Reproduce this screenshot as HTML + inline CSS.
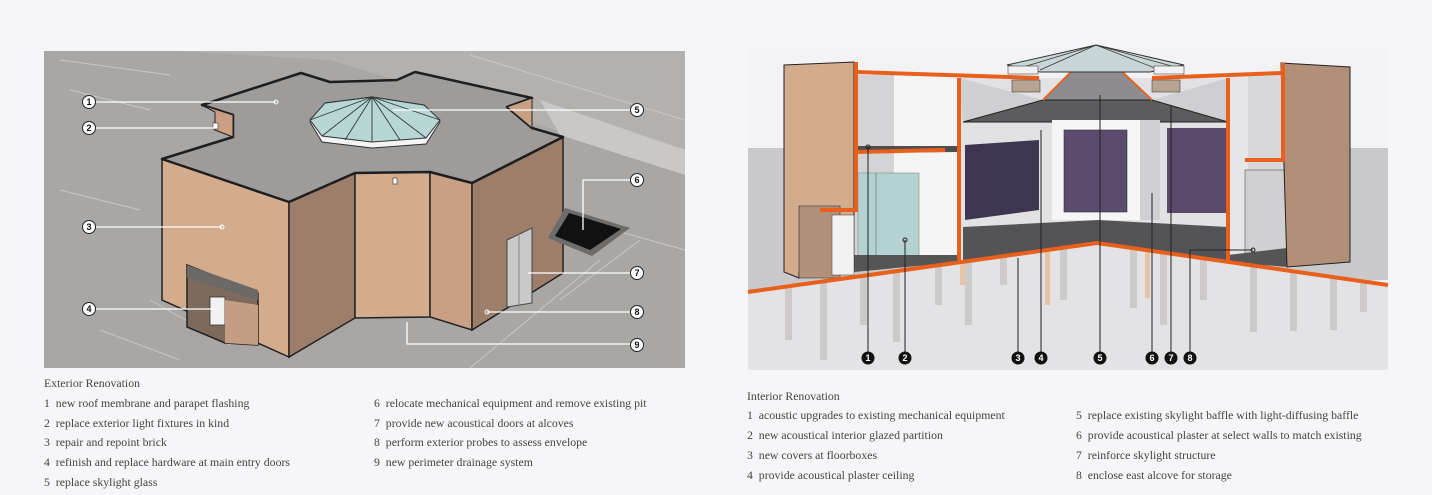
<!DOCTYPE html>
<html><head><meta charset="utf-8"><style>
html,body{margin:0;padding:0;background:#f6f6f8;}
body{width:1432px;height:495px;position:relative;overflow:hidden;font-family:"Liberation Serif",serif;color:#444;}
.t{position:absolute;font-size:11.8px;white-space:nowrap;}
svg{position:absolute;left:0;top:0;}
</style></head><body>
<svg width="1432" height="495" viewBox="0 0 1432 495">
<!-- LEFT PANEL -->
<rect x="44" y="51" width="641" height="317" fill="#a9a7a5"/>
<polygon points="44,51 685,51 685,175 540,125 330,60 180,51" fill="#b3b1af"/>
<polygon points="540,100 685,150 685,175 560,135" fill="#c9c8c7"/>
<g stroke="#c9c7c5" stroke-width="1" fill="none">
<path d="M60,60 L170,75 M70,90 L150,110 M470,55 L685,120 M620,130 L685,150 M560,215 L685,250 M640,240 L560,300 M600,260 L470,368 M150,300 L230,345 M60,190 L140,210 M100,330 L180,360"/>
</g>
<!-- walls -->
<polygon points="162,159 289,202 289,357 162,300" fill="#d3ab8d" stroke="#222" stroke-width="1.5"/>
<polygon points="289,202 355,173 355,318 289,357" fill="#9c7e6b" stroke="#222" stroke-width="1.5"/>
<polygon points="355,173 430,172 430,317 355,318" fill="#d3ab8d" stroke="#222" stroke-width="1.5"/>
<polygon points="430,172 472,183 472,330 430,317" fill="#c9a084" stroke="#222" stroke-width="1.5"/>
<polygon points="472,183 563,137 563,273 472,330" fill="#9c7e6b" stroke="#222" stroke-width="1.5"/>
<!-- entry alcove -->
<polygon points="187,265 258,293 258,345 225,343 187,327" fill="#7d6a5c" stroke="#222" stroke-width="1.5"/>
<polygon points="187,265 258,290 258,300 187,278" fill="#6b6866"/>
<rect x="210" y="297" width="15" height="28" fill="#f2f2f2" stroke="#333" stroke-width="0.8"/>
<polygon points="225,300 258,305 258,345 225,343" fill="#c49e83"/>
<!-- door right -->
<polygon points="507,240 532,228 532,303 507,307" fill="#c9c9c9" stroke="#444" stroke-width="1"/>
<line x1="519" y1="234" x2="519" y2="305" stroke="#888"/>
<!-- pit -->
<polygon points="565,208 630,228 592,256 548,238" fill="#6e6c6a"/>
<polygon points="569,213 621,229 590,250 555,236" fill="#111"/>
<!-- roof -->
<polygon points="162,159 233,137 233,115 202,105 301,73 330,82 397,80 415,72 532,98 507,107 532,128 563,137 472,183 430,172 355,173 289,202" fill="#9e9c9a" stroke="#1e1e1e" stroke-width="2.5" stroke-linejoin="round"/>
<polygon points="202,105 233,115 233,137 215,130 215,112" fill="#c9a084" stroke="#222"/>
<polygon points="507,107 532,98 532,128" fill="#c9a084" stroke="#222"/>
<rect x="213" y="123" width="5" height="6" fill="#fff" stroke="#333" stroke-width="0.6"/>
<rect x="393" y="178" width="4" height="6" fill="#fff" stroke="#333" stroke-width="0.6"/>
<!-- skylight -->
<polygon points="310,122 325,104 372,97 424,106 440,122 426,144 372,148 322,142" fill="#f4f4f4" stroke="#333"/>
<polygon points="310,120 325,103 372,97 424,105 440,120 426,138 372,142 322,136" fill="#b8d6d4" stroke="#333"/>
<g stroke="#2e3a3a" stroke-width="0.9">
<line x1="372" y1="97" x2="310" y2="120"/><line x1="372" y1="97" x2="322" y2="136"/><line x1="372" y1="97" x2="345" y2="140"/><line x1="372" y1="97" x2="372" y2="142"/><line x1="372" y1="97" x2="400" y2="140"/><line x1="372" y1="97" x2="426" y2="138"/><line x1="372" y1="97" x2="440" y2="120"/><line x1="372" y1="97" x2="325" y2="103"/><line x1="372" y1="97" x2="424" y2="105"/>
</g>
<!-- left labels -->
<g stroke="#fff" stroke-width="1.3" fill="none">
<path d="M89,102 H276 M89,128 H216 M89,227 H222 M89,309 H218 M637,110 H393 M583,180 H637 M583,180 V230 M637,273 H528 M637,312 H487 M407,322 V344 H637"/>
</g>
<g fill="none" stroke="#fff" stroke-width="1"><circle cx="276" cy="102" r="2"/><circle cx="222" cy="227" r="2"/><circle cx="487" cy="312" r="2"/></g>
<g font-family="Liberation Sans, sans-serif" font-size="9" font-weight="bold" text-anchor="middle">
<g fill="#fff" stroke="#222" stroke-width="1">
<circle cx="89" cy="102" r="6.5"/><circle cx="89" cy="128" r="6.5"/><circle cx="89" cy="227" r="6.5"/><circle cx="89" cy="309" r="6.5"/>
<circle cx="637" cy="110" r="6.5"/><circle cx="637" cy="180" r="6.5"/><circle cx="637" cy="273" r="6.5"/><circle cx="637" cy="312" r="6.5"/><circle cx="637" cy="345" r="6.5"/>
</g>
<g fill="#111">
<text x="89" y="105">1</text><text x="89" y="131">2</text><text x="89" y="230">3</text><text x="89" y="312">4</text>
<text x="637" y="113">5</text><text x="637" y="183">6</text><text x="637" y="276">7</text><text x="637" y="315">8</text><text x="637" y="348">9</text>
</g></g>

<!-- RIGHT PANEL -->
<rect x="748" y="48" width="640" height="322" fill="#f3f3f5"/>
<polygon points="748,148 1388,148 1388,280 748,292" fill="#c9c9cb"/>
<polygon points="748,292 1097,243 1388,285 1388,370 748,370" fill="#e3e3e6"/>
<g fill="#cdcbca">
<rect x="785" y="270" width="7" height="70"/><rect x="820" y="270" width="7" height="90"/><rect x="860" y="265" width="7" height="60"/><rect x="893" y="262" width="7" height="80"/><rect x="935" y="255" width="7" height="50"/><rect x="965" y="250" width="7" height="75"/><rect x="1000" y="245" width="7" height="40"/><rect x="1060" y="245" width="7" height="55"/>
<rect x="1130" y="248" width="7" height="60"/><rect x="1160" y="250" width="7" height="75"/><rect x="1200" y="255" width="7" height="45"/><rect x="1250" y="262" width="7" height="70"/><rect x="1290" y="266" width="7" height="65"/><rect x="1330" y="270" width="7" height="60"/><rect x="1360" y="272" width="7" height="40"/>
</g>
<g fill="#e8c4a6"><rect x="1045" y="245" width="5" height="60"/><rect x="1145" y="248" width="5" height="50"/><rect x="960" y="255" width="5" height="30"/></g>
<!-- left room -->
<rect x="854" y="75" width="105" height="185" fill="#f5f5f5"/>
<rect x="854" y="75" width="40" height="185" fill="#d4d4d6"/>
<rect x="858" y="173" width="61" height="84" fill="#b5d2d3" stroke="#888" stroke-width="0.6"/>
<line x1="876" y1="173" x2="876" y2="257" stroke="#888"/>
<polygon points="854,146 959,146 959,152 854,153" fill="#4f4f4f"/>
<polygon points="854,255 959,255 959,262 854,272" fill="#555"/>
<!-- middle room -->
<polygon points="959,78 1228,78 1228,260 1098,243 959,260" fill="#e2e2e4"/>
<polygon points="959,78 1043,100 963,122" fill="#cfcfd1"/>
<polygon points="1152,100 1228,78 1228,122" fill="#cfcfd1"/>
<polygon points="963,122 1043,100 1152,100 1228,122" fill="#5c5b5d" stroke="#222"/>
<polygon points="1043,100 1096,47 1152,100" fill="#8e8c8f" stroke="#222"/>
<line x1="1043" y1="100" x2="1096" y2="47" stroke="#e0662a" stroke-width="2"/>
<line x1="1152" y1="100" x2="1096" y2="47" stroke="#e0662a" stroke-width="2"/>
<polygon points="1007,65 1096,45 1184,65 1150,72 1040,72" fill="#c9d6d8" stroke="#333"/>
<g stroke="#333" stroke-width="0.7"><line x1="1096" y1="45" x2="1020" y2="68"/><line x1="1096" y1="45" x2="1040" y2="70"/><line x1="1096" y1="45" x2="1160" y2="70"/><line x1="1096" y1="45" x2="1175" y2="67"/></g>
<rect x="1008" y="66" width="30" height="8" fill="#f2f2f2" stroke="#444" stroke-width="0.6"/>
<rect x="1154" y="66" width="30" height="8" fill="#f2f2f2" stroke="#444" stroke-width="0.6"/>
<rect x="1012" y="80" width="28" height="12" fill="#b7a591" stroke="#444" stroke-width="0.6"/>
<rect x="1152" y="80" width="28" height="12" fill="#b7a591" stroke="#444" stroke-width="0.6"/>
<rect x="1052" y="120" width="88" height="100" fill="#f6f6f6"/>
<rect x="1064" y="130" width="63" height="82" fill="#5b4c6e" stroke="#333" stroke-width="0.6"/>
<polygon points="965,145 1039,140 1039,210 965,220" fill="#3e3550"/>
<rect x="1167" y="128" width="61" height="85" fill="#5a4a6c"/>
<rect x="1140" y="120" width="20" height="100" fill="#d0d0d2"/>
<polygon points="963,227 1098,220 1228,227 1228,260 1098,243 963,260" fill="#545356"/>
<!-- right room -->
<rect x="1228" y="73" width="59" height="192" fill="#d8d8da"/>
<rect x="1228" y="73" width="20" height="192" fill="#e6e6e8"/>
<rect x="1245" y="170" width="55" height="95" fill="#d0d0d2" stroke="#555" stroke-width="0.6"/>
<polygon points="1228,255 1287,248 1287,267 1228,262" fill="#555"/>
<!-- tan walls -->
<polygon points="784,65 854,62 854,267 799,273 799,278 784,272" fill="#d3ab8d" stroke="#222"/>
<polygon points="799,206 840,206 840,278 799,278" fill="#b2917a" stroke="#222" stroke-width="0.6"/>
<rect x="832" y="215" width="22" height="60" fill="#f2f2f2" stroke="#555" stroke-width="0.6"/>
<polygon points="1281,63 1350,67 1350,262 1287,267" fill="#b29078" stroke="#222"/>
<!-- orange sections -->
<g fill="none" stroke="#e8601c" stroke-width="4" stroke-linejoin="miter">
<path d="M856,62 V210 H820"/>
<path d="M856,72 L1039,78"/>
<path d="M856,152 L945,150"/>
<path d="M959,78 V260"/>
<path d="M1152,78 L1281,73"/>
<path d="M1228,78 V262"/>
<path d="M1283,63 V160 H1245"/>
<path d="M748,292 L1097,243 L1388,285"/>
</g>
<!-- right labels -->
<g stroke="#222" stroke-width="1" fill="none">
<path d="M868,358 V147 M905,358 V240 M1018,358 V258 M1041,358 V130 M1100,358 V95 M1152,358 V193 M1171,358 V105 M1190,358 V250 H1253"/>
<circle cx="868" cy="147" r="2"/><circle cx="905" cy="240" r="2"/><circle cx="1253" cy="250" r="2"/>
</g>
<g font-family="Liberation Sans, sans-serif" font-size="9" font-weight="bold" text-anchor="middle">
<g fill="#111"><circle cx="868" cy="358" r="6.5"/><circle cx="905" cy="358" r="6.5"/><circle cx="1018" cy="358" r="6.5"/><circle cx="1041" cy="358" r="6.5"/><circle cx="1100" cy="358" r="6.5"/><circle cx="1152" cy="358" r="6.5"/><circle cx="1171" cy="358" r="6.5"/><circle cx="1190" cy="358" r="6.5"/></g>
<g fill="#fff"><text x="868" y="361">1</text><text x="905" y="361">2</text><text x="1018" y="361">3</text><text x="1041" y="361">4</text><text x="1100" y="361">5</text><text x="1152" y="361">6</text><text x="1171" y="361">7</text><text x="1190" y="361">8</text></g>
</g>
</svg>

<div class="t" style="left:44px;top:376px">Exterior Renovation</div>
<div class="t" style="left:44px;top:396px">1&nbsp; new roof membrane and parapet flashing</div>
<div class="t" style="left:44px;top:416px">2&nbsp; replace exterior light fixtures in kind</div>
<div class="t" style="left:44px;top:435px">3&nbsp; repair and repoint brick</div>
<div class="t" style="left:44px;top:455px">4&nbsp; refinish and replace hardware at main entry doors</div>
<div class="t" style="left:44px;top:475px">5&nbsp; replace skylight glass</div>
<div class="t" style="left:374px;top:396px">6&nbsp; relocate mechanical equipment and remove existing pit</div>
<div class="t" style="left:374px;top:416px">7&nbsp; provide new acoustical doors at alcoves</div>
<div class="t" style="left:374px;top:435px">8&nbsp; perform exterior probes to assess envelope</div>
<div class="t" style="left:374px;top:455px">9&nbsp; new perimeter drainage system</div>

<div class="t" style="left:747px;top:389px">Interior Renovation</div>
<div class="t" style="left:747px;top:408px">1&nbsp; acoustic upgrades to existing mechanical equipment</div>
<div class="t" style="left:747px;top:428px">2&nbsp; new acoustical interior glazed partition</div>
<div class="t" style="left:747px;top:448px">3&nbsp; new covers at floorboxes</div>
<div class="t" style="left:747px;top:468px">4&nbsp; provide acoustical plaster ceiling</div>
<div class="t" style="left:1076px;top:408px">5&nbsp; replace existing skylight baffle with light-diffusing baffle</div>
<div class="t" style="left:1076px;top:428px">6&nbsp; provide acoustical plaster at select walls to match existing</div>
<div class="t" style="left:1076px;top:448px">7&nbsp; reinforce skylight structure</div>
<div class="t" style="left:1076px;top:468px">8&nbsp; enclose east alcove for storage</div>
</body></html>
